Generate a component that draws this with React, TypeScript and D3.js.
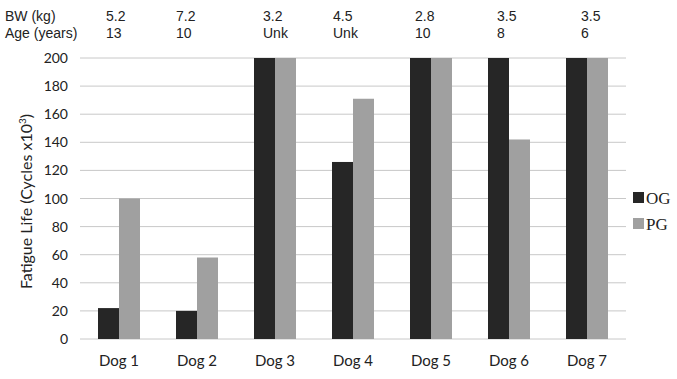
import React from "react";
import * as d3 from "d3";

const categories = ["Dog 1", "Dog 2", "Dog 3", "Dog 4", "Dog 5", "Dog 6", "Dog 7"];
const ogValues = [22, 20, 200, 126, 200, 200, 200];
const pgValues = [100, 58, 200, 171, 200, 142, 200];
const bwValues = ["5.2", "7.2", "3.2", "4.5", "2.8", "3.5", "3.5"];
const ageValues = ["13", "10", "Unk", "Unk", "10", "8", "6"];
const yTicks = [0, 20, 40, 60, 80, 100, 120, 140, 160, 180, 200];
const seriesNames = ["OG", "PG"];
const colors = ["#262626", "#a0a0a0"];

export default function App() {
  const W = 677, H = 379;
  const left = 80, right = 626, top = 58, bottom = 339;
  const x = d3.scaleBand().domain(categories).range([left, right]).paddingInner(0).paddingOuter(0);
  const y = d3.scaleLinear().domain([0, 200]).range([bottom, top]);
  const barW = 21;
  const sans = "Lato, 'Open Sans', sans-serif";
  const arial = "'Liberation Sans', Arial, sans-serif";
  const infoX = [106, 176, 263, 333, 415, 497, 581];
  return (
    <svg width={W} height={H} style={{ position: "absolute", left: 0, top: 0, background: "#fff" }}>
      <rect width={W} height={H} fill="#fff" />
      <text x={5} y={21} fontFamily={arial} fontSize={14} fill="#222">BW (kg)</text>
      <text x={5} y={38} fontFamily={arial} fontSize={14} fill="#222">Age (years)</text>
      {categories.map((c, i) => (
        <g key={c}>
          <text x={infoX[i]} y={21} fontFamily={arial} fontSize={14} fill="#222">{bwValues[i]}</text>
          <text x={infoX[i]} y={38} fontFamily={arial} fontSize={14} fill="#222">{ageValues[i]}</text>
        </g>
      ))}
      {yTicks.map((t) => (
        <g key={t}>
          <line x1={left} x2={right} y1={y(t)} y2={y(t)} stroke="#c8c8c8" strokeWidth={1} />
          <text x={68} y={y(t) + 5} textAnchor="end" fontFamily={sans} fontSize={14} fill="#222">{t}</text>
        </g>
      ))}
      {categories.map((c, i) => {
        const cx = (x(c) as number) + x.bandwidth() / 2;
        return (
          <g key={c}>
            <rect x={cx - barW} y={y(ogValues[i])} width={barW} height={y(0) - y(ogValues[i])} fill={colors[0]} />
            <rect x={cx} y={y(pgValues[i])} width={barW} height={y(0) - y(pgValues[i])} fill={colors[1]} />
            <text x={cx} y={366} textAnchor="middle" fontFamily={sans} fontSize={15} fill="#222">{c}</text>
          </g>
        );
      })}
      <text transform={`translate(32,${(top + bottom) / 2 + 3}) rotate(-90)`} textAnchor="middle" fontFamily={sans} fontSize={16} fill="#222">
        Fatigue Life (Cycles x10<tspan dy={-6} fontSize={10}>3</tspan><tspan dy={6}>)</tspan>
      </text>
      {seriesNames.map((s, i) => (
        <g key={s}>
          <rect x={633} y={192 + i * 26} width={11} height={11} fill={colors[i]} />
          <text x={646} y={204 + i * 26} fontFamily="'Liberation Serif', serif" fontSize={17} fill="#222">{s}</text>
        </g>
      ))}
    </svg>
  );
}
